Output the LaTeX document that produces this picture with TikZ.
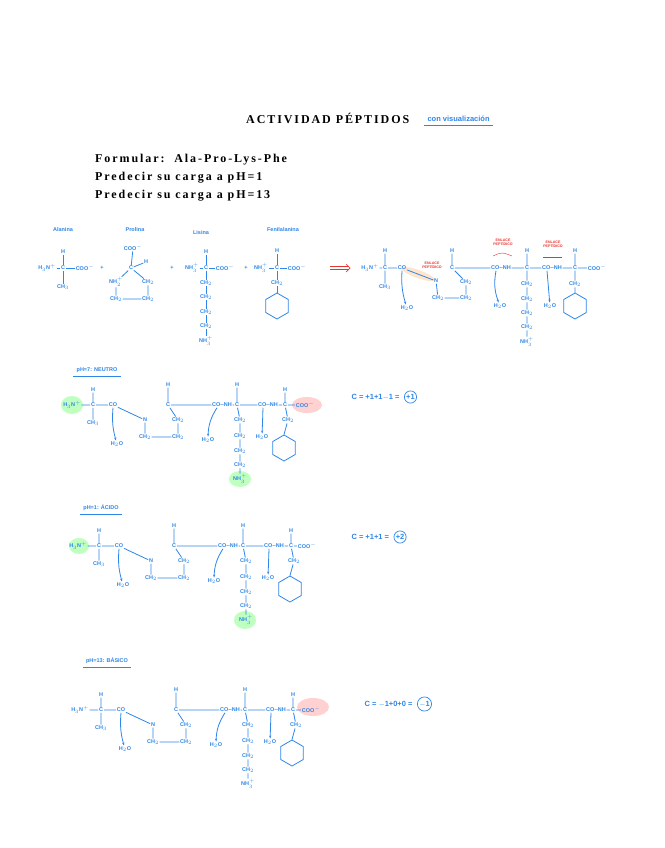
\documentclass[tikz,border=0pt]{standalone}
\usepackage{fontspec}
\setmainfont{Liberation Serif}
\newfontfamily\hand{Liberation Sans}
\newfontfamily\spaced[LetterSpace=16]{Liberation Serif}
\usetikzlibrary{arrows.meta,shapes.geometric}
\definecolor{bl}{HTML}{2E86E8}
\definecolor{rd}{HTML}{E8342E}
\tikzset{
 ch/.style={text=bl,font=\hand\bfseries\fontsize{5.5}{6}\selectfont,inner sep=0.6pt},
 bd/.style={draw=bl,line width=0.8pt},
 ar/.style={draw=bl,line width=0.8pt,-{Stealth[length=3pt]}},
 lab/.style={text=bl,font=\hand\bfseries\fontsize{5.5}{6}\selectfont},
 big/.style={text=bl,font=\hand\bfseries\fontsize{7.5}{8}\selectfont},
 rl/.style={text=rd,font=\hand\bfseries\fontsize{3.6}{4}\selectfont,align=center,inner sep=0.3pt},
 hg/.style={fill=green!25,draw=none},
 hr/.style={fill=red!18,draw=none},
 bz/.style={regular polygon,regular polygon sides=6,shape border rotate=30,draw=bl,line width=0.8pt,minimum size=26pt,inner sep=0},
 ttl/.style={font=\spaced\bfseries\fontsize{12}{14}\selectfont,anchor=west,inner sep=0},
 chg/.style={big,draw=bl,circle,inner sep=0.8pt,line width=0.7pt}
}
\newcommand{\pepchain}[4]{%
\begin{scope}[shift={(#2,#3)}]
\node[ch] (#1n) at (0,0) {H$_3$N$^+$};
\node[ch] (#1c1) at (21,0) {C};
\node[ch] (#1h1) at (21,-15) {H};
\node[ch] (#1m1) at (21,18) {CH$_3$};
\node[ch] (#1co1) at (41,0) {CO};
\node[ch] (#1pn) at (73,15) {N};
\node[ch] (#1p1) at (73,32) {CH$_2$};
\node[ch] (#1p2) at (106,32) {CH$_2$};
\node[ch] (#1p3) at (106,15) {CH$_2$};
\node[ch] (#1c2) at (96,0) {C};
\node[ch] (#1h2) at (96,-20) {H};
\node[ch] (#1co2) at (150,0) {CO--NH};
\node[ch] (#1c3) at (165,0) {C};
\node[ch] (#1h3) at (165,-20) {H};
\node[ch] (#1k1) at (168,15) {CH$_2$};
\node[ch] (#1k2) at (168,31) {CH$_2$};
\node[ch] (#1k3) at (168,46) {CH$_2$};
\node[ch] (#1k4) at (168,60) {CH$_2$};
\node[ch] (#1k5) at (168,74) {NH$_3^+$};
\node[ch] (#1co3) at (196,0) {CO--NH};
\node[ch] (#1c4) at (213,0) {C};
\node[ch] (#1h4) at (213,-15) {H};
\node[ch] (#1f1) at (216,15) {CH$_2$};
\node[ch] (#1end) at (#4,0) {COO$^-$};
\node[ch] (#1w1) at (45,39) {H$_2$O};
\node[ch] (#1w2) at (136,35) {H$_2$O};
\node[ch] (#1w3) at (190,32) {H$_2$O};
\node[bz] (#1bz) at (212,43) {};
\draw[bd] (#1n)--(#1c1)--(#1co1) (#1h1)--(#1c1)--(#1m1) (#1co1)--(#1pn)--(#1p1)--(#1p2)--(#1p3)--(#1c2) (#1h2)--(#1c2)--(#1co2) (#1co2)--(#1c3) (#1h3)--(#1c3)--(#1k1)--(#1k2)--(#1k3)--(#1k4)--(#1k5) (#1c3)--(#1co3)--(#1c4)--(#1end) (#1h4)--(#1c4)--(#1f1)--(#1bz.north);
\draw[ar] (#1co1.south) to[bend right=10] (#1w1);
\draw[ar] ([xshift=-5pt]#1co2.south) to[bend right=15] (#1w2);
\draw[ar] ([xshift=-5pt]#1co3.south) -- (#1w3);
\end{scope}}
\begin{document}
\begin{tikzpicture}[x=1pt,y=-1pt]
\useasboundingbox (0,0) rectangle (664,848);
\fill[white] (0,0) rectangle (664,848);
% titles
\node[ttl] (t) at (246,118) {ACTIVIDAD PÉPTIDOS};
\node[big,anchor=west] (tv) at (424,119) {con visualización};
\draw[bl,line width=0.6pt] (tv.south west)--(tv.south east);
\node[ttl] (f1) at (95,160) {Formular:\ \ Ala-Pro-Lys-Phe};
\node[ttl] (f2) at (95,178) {Predecir su carga a pH=1};
\node[ttl] (f3) at (95,196) {Predecir su carga a pH=13};
% reactants
\node[lab] (la) at (63,230) {Alanina};
\node[lab] (lp) at (135,230) {Prolina};
\node[lab] (ll) at (201,233) {Lisina};
\node[lab] (lf) at (283,230) {Fenilalanina};
\node[ch] (an) at (47,268) {H$_3$N$^+$};
\node[ch] (ac) at (63,268) {C};
\node[ch] (ah) at (63,252) {H};
\node[ch] (am) at (63,287) {CH$_3$};
\node[ch] (ao) at (85,268) {COO$^-$};
\draw[bd] (an)--(ac)--(ao) (ah)--(ac)--(am);
\node[ch] (p1) at (102,268) {+};
\node[ch] (po) at (133,248) {COO$^-$};
\node[ch] (pc) at (131,268) {C};
\node[ch] (ph) at (146,262) {H};
\node[ch] (pn) at (116,282) {NH$_2^+$};
\node[ch] (pa) at (148,282) {CH$_2$};
\node[ch] (pb) at (116,299) {CH$_2$};
\node[ch] (pd) at (148,299) {CH$_2$};
\draw[bd] (po)--(pc)--(ph) (pc)--(pn)--(pb)--(pd)--(pa)--(pc);
\node[ch] (p2) at (172,268) {+};
\node[ch] (ln) at (192,268) {NH$_3^+$};
\node[ch] (lc) at (206,268) {C};
\node[ch] (lh) at (206,252) {H};
\node[ch] (lo) at (225,268) {COO$^-$};
\node[ch] (l1) at (206,283) {CH$_2$};
\node[ch] (l2) at (206,297) {CH$_2$};
\node[ch] (l3) at (206,312) {CH$_2$};
\node[ch] (l4) at (206,326) {CH$_2$};
\node[ch] (l5) at (206,341) {NH$_3^+$};
\draw[bd] (ln)--(lc)--(lo) (lh)--(lc)--(l1)--(l2)--(l3)--(l4)--(l5);
\node[ch] (p3) at (246,268) {+};
\node[ch] (fn) at (261,268) {NH$_3^+$};
\node[ch] (fc) at (277,268) {C};
\node[ch] (fh) at (277,251) {H};
\node[ch] (fo) at (297,268) {COO$^-$};
\node[ch] (fm) at (277,283) {CH$_2$};
\node[bz] (fb) at (277,306) {};
\draw[bd] (fn)--(fc)--(fo) (fh)--(fc)--(fm)--(fb.north);
\coordinate (ra) at (330,268); \coordinate (rb) at (349,268);
\draw[rd,line width=0.7pt] ([yshift=-1.6pt]ra)--([yshift=-1.6pt]rb) ([yshift=1.6pt]ra)--([yshift=1.6pt]rb);
\draw[rd,line width=0.7pt] ([shift={(-3,-4)}]rb)--([xshift=1pt]rb)--([shift={(-3,4)}]rb);
% product
\fill[orange!20,rotate around={-20:(418,274)}] (418,274) ellipse (18 and 4);
\node[ch] (qn) at (370,268) {H$_3$N$^+$};
\node[ch] (qc) at (385,268) {C};
\node[ch] (qh) at (385,251) {H};
\node[ch] (qm) at (385,287) {CH$_3$};
\node[ch] (qo) at (402,268) {CO};
\node[ch] (qpn) at (436,281) {N};
\node[ch] (qp1) at (438,298) {CH$_2$};
\node[ch] (qp2) at (466,298) {CH$_2$};
\node[ch] (qp3) at (466,282) {CH$_2$};
\node[ch] (qc2) at (452,268) {C};
\node[ch] (qh2) at (452,251) {H};
\node[ch] (qco2) at (501,268) {CO--NH};
\node[ch] (qc3) at (527,268) {C};
\node[ch] (qh3) at (527,251) {H};
\node[ch] (qk1) at (527,284) {CH$_2$};
\node[ch] (qk2) at (527,299) {CH$_2$};
\node[ch] (qk3) at (527,313) {CH$_2$};
\node[ch] (qk4) at (527,327) {CH$_2$};
\node[ch] (qk5) at (527,342) {NH$_3^+$};
\node[ch] (qco3) at (552,268) {CO--NH};
\node[ch] (qc4) at (575,268) {C};
\node[ch] (qh4) at (575,251) {H};
\node[ch] (qf1) at (575,284) {CH$_2$};
\node[ch] (qend) at (597,268) {COO$^-$};
\node[ch] (qw1) at (407,308) {H$_2$O};
\node[ch] (qw2) at (500,306) {H$_2$O};
\node[ch] (qw3) at (550,306) {H$_2$O};
\node[bz] (qb) at (575,306) {};
\draw[bd] (qn)--(qc)--(qo) (qh)--(qc)--(qm) (qo)--(qpn)--(qp1)--(qp2)--(qp3)--(qc2) (qh2)--(qc2)--(qco2) (qco2)--(qc3) (qh3)--(qc3)--(qk1)--(qk2)--(qk3)--(qk4)--(qk5) (qc3)--(qco3)--(qc4)--(qend) (qh4)--(qc4)--(qf1)--(qb.north);
\draw[ar] (qo.south) to[bend right=10] (qw1);
\draw[ar] ([xshift=-5pt]qco2.south) to[bend right=15] (qw2);
\draw[ar] ([xshift=-5pt]qco3.south) -- (qw3);
\node[rl] (e1) at (432,265) {ENLACE\\PEPTÍDICO};
\node[rl] (e2) at (503,242) {ENLACE\\PEPTÍDICO};
\node[rl] (e3) at (553,244) {ENLACE\\PEPTÍDICO};
\draw[rd,line width=0.4pt] (493,256) .. controls (502,252) .. (512,256);
\draw[rd,line width=0.4pt] (543,257) -- (562,257);
% pH 7
\fill[hg] (72,405) ellipse (11 and 9);
\fill[hr] (307,405) ellipse (15 and 8);
\fill[hg] (240,479) ellipse (11 and 8);
\node[lab] (s1) at (97,370) {pH=7: NEUTRO};
\draw[bl,line width=0.5pt] (s1.south west)--(s1.south east);
\pepchain{a}{72}{405}{233}
\node[big,anchor=west] (c1) at (348,397) {C = +1+1$-$1 =};
\node[chg,anchor=west] (c1r) at ([xshift=1pt]c1.east) {+1};
% pH 1
\fill[hg] (79,546) ellipse (10 and 8);
\fill[hg] (245,620) ellipse (11 and 9);
\node[lab] (s2) at (101,508) {pH=1: ÁCIDO};
\draw[bl,line width=0.5pt] (s2.south west)--(s2.south east);
\pepchain{b}{78}{546}{229}
\node[big,anchor=west] (c2) at (348,537) {C = +1+1 =};
\node[chg,anchor=west] (c2r) at ([xshift=1pt]c2.east) {+2};
% pH 13
\fill[hr] (313,707) ellipse (16 and 9);
\node[lab] (s3) at (107,661) {pH=13: BÁSICO};
\draw[bl,line width=0.5pt] (s3.south west)--(s3.south east);
\pepchain{c}{80}{710}{231}
\node[big,anchor=west] (c3) at (361,704) {C = $-$1+0+0 =};
\node[chg,anchor=west] (c3r) at ([xshift=1pt]c3.east) {$-$1};
\end{tikzpicture}
\end{document}
